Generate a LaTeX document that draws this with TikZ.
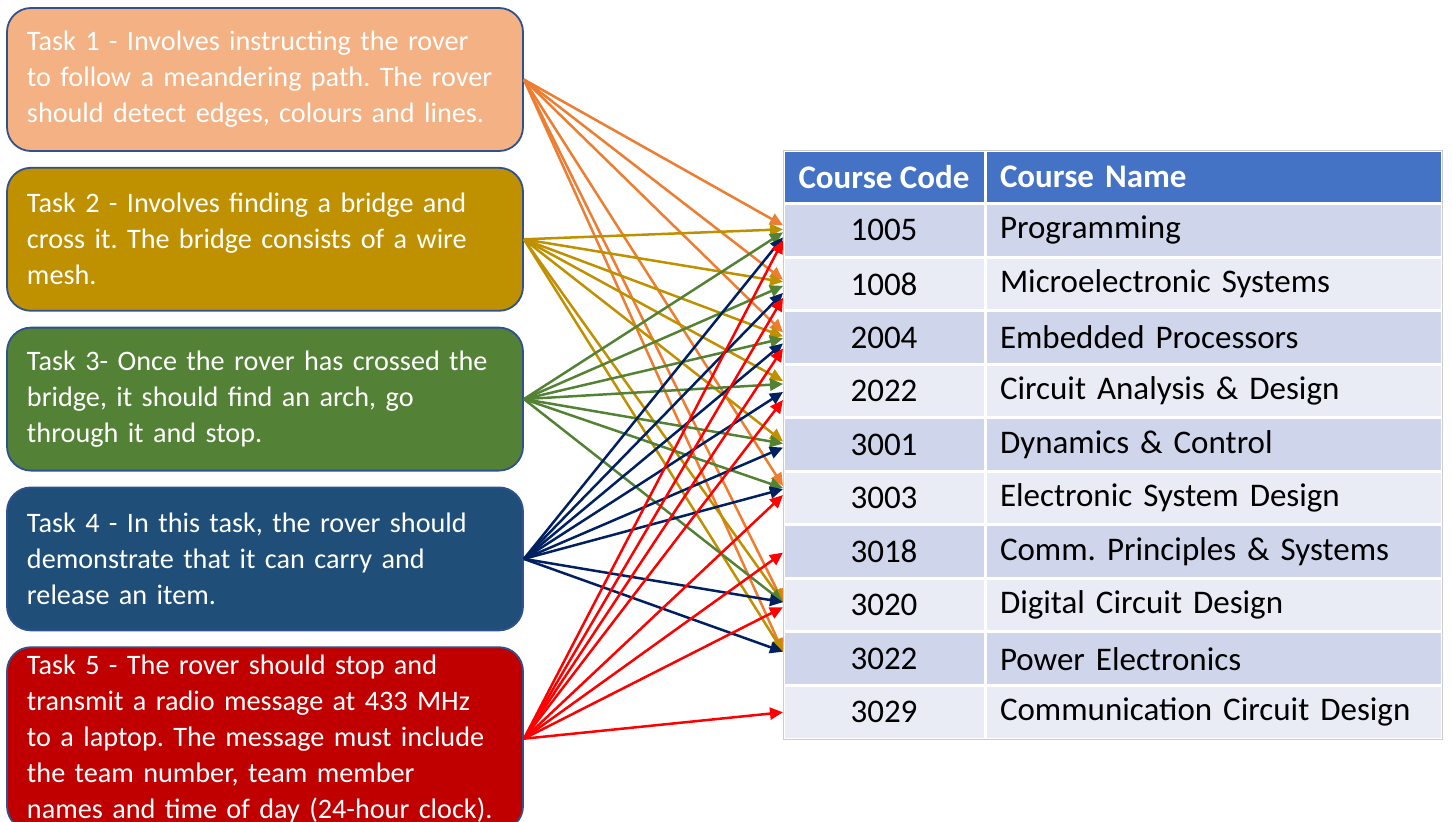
\documentclass[tikz,border=0pt]{standalone}
\usepackage{fontspec}
\setmainfont{Carlito}
\usetikzlibrary{positioning,arrows.meta}
\definecolor{boxedge}{HTML}{2F528F}
\definecolor{fillA}{HTML}{F4B183}
\definecolor{fillB}{HTML}{BF9000}
\definecolor{fillC}{HTML}{538135}
\definecolor{fillD}{HTML}{1F4E79}
\definecolor{fillE}{HTML}{C00000}
\definecolor{lineA}{HTML}{ED7D31}
\definecolor{lineB}{HTML}{BF9000}
\definecolor{lineC}{HTML}{548235}
\definecolor{lineD}{HTML}{002060}
\definecolor{lineE}{HTML}{FF0000}
\definecolor{headblue}{HTML}{4472C4}
\definecolor{rowdark}{HTML}{CFD5EA}
\definecolor{rowlight}{HTML}{E9EBF5}
\frenchspacing

\begin{document}
\begin{tikzpicture}[x=1pt,y=-1pt,>={Triangle[length=13pt,width=12pt]},
    task/.style={rectangle,rounded corners=24pt,draw=boxedge,line width=1.8pt,text=white,align=left,
      text width=476pt,inner xsep=20pt,inner ysep=0pt,minimum height=143pt,font=\fontsize{28.2}{36}\selectfont},
    tabcell/.style={rectangle,draw=white,line width=3pt,outer sep=0pt,minimum height=53.55pt,inner sep=0pt,
      font=\fontsize{33}{38}\selectfont},
    codecell/.style={tabcell,minimum width=202pt},
    namecell/.style={tabcell,minimum width=457pt,text width=427pt,align=left},
    headcell/.style={fill=headblue,text=white,font=\fontsize{33}{38}\selectfont\bfseries},
    linkA/.style={->,draw=lineA,line width=2.5pt},
    linkB/.style={->,draw=lineB,line width=2.5pt},
    linkC/.style={->,draw=lineC,line width=2.5pt},
    linkD/.style={->,draw=lineD,line width=2.5pt},
    linkE/.style={->,draw=lineE,line width=2.5pt}]

    \useasboundingbox (0,0) rectangle (1452,822);
    \clip (0,0) rectangle (1452,822);

    % tasks
    \node[task,fill=fillA] (t1) at (265,79.5) {Task 1 - Involves instructing the rover\\to follow a meandering path. The rover\\should detect edges, colours and lines.};
    \node[task,fill=fillB] (t2) [below=15pt of t1] {Task 2 - Involves finding a bridge and\\cross it. The bridge consists of a wire\\mesh.};
    \node[task,fill=fillC] (t3) [below=15pt of t2] {Task 3- Once the rover has crossed the\\bridge, it should find an arch, go\\through it and stop.};
    \node[task,fill=fillD] (t4) [below=15pt of t3] {Task 4 - In this task, the rover should\\demonstrate that it can carry and\\release an item.};
    \node[task,fill=fillE,minimum height=183pt] (t5) [below=15pt of t4] {Task 5 - The rover should stop and\\transmit a radio message at 433 MHz\\to a laptop. The message must include\\the team number, team member\\names and time of day (24-hour clock).};

    % table
    \node[codecell,headcell,anchor=north west] (hcode) at (783,150) {Course Code};
    \node[namecell,headcell] (hname) [right=0pt of hcode] {Course Name};
    \node[codecell,fill=rowdark] (c1005) [below=0pt of hcode] {1005};
    \node[namecell,fill=rowdark] (n1005) [right=0pt of c1005] {Programming};
    \node[codecell,fill=rowlight] (c1008) [below=0pt of c1005] {1008};
    \node[namecell,fill=rowlight] (n1008) [right=0pt of c1008] {Microelectronic Systems};
    \node[codecell,fill=rowdark] (c2004) [below=0pt of c1008] {2004};
    \node[namecell,fill=rowdark] (n2004) [right=0pt of c2004] {Embedded Processors};
    \node[codecell,fill=rowlight] (c2022) [below=0pt of c2004] {2022};
    \node[namecell,fill=rowlight] (n2022) [right=0pt of c2022] {Circuit Analysis \& Design};
    \node[codecell,fill=rowdark] (c3001) [below=0pt of c2022] {3001};
    \node[namecell,fill=rowdark] (n3001) [right=0pt of c3001] {Dynamics \& Control};
    \node[codecell,fill=rowlight] (c3003) [below=0pt of c3001] {3003};
    \node[namecell,fill=rowlight] (n3003) [right=0pt of c3003] {Electronic System Design};
    \node[codecell,fill=rowdark] (c3018) [below=0pt of c3003] {3018};
    \node[namecell,fill=rowdark] (n3018) [right=0pt of c3018] {Comm. Principles \& Systems};
    \node[codecell,fill=rowlight] (c3020) [below=0pt of c3018] {3020};
    \node[namecell,fill=rowlight] (n3020) [right=0pt of c3020] {Digital Circuit Design};
    \node[codecell,fill=rowdark] (c3022) [below=0pt of c3020] {3022};
    \node[namecell,fill=rowdark] (n3022) [right=0pt of c3022] {Power Electronics};
    \node[codecell,fill=rowlight] (c3029) [below=0pt of c3022] {3029};
    \node[namecell,fill=rowlight] (n3029) [right=0pt of c3029] {Communication Circuit Design};
    \draw[black!20,line width=1pt] (hcode.north west) rectangle (n3029.south east);

    % task 1
    \draw[linkA] (t1.east) to ([yshift=5pt]c1005.west);
    \draw[linkA] (t1.east) to ([yshift=4pt]c1008.west);
    \draw[linkA] (t1.east) to ([yshift=5pt]c2004.west);
    \draw[linkA] (t1.east) to ([yshift=12pt]c3003.west);
    \draw[linkA] (t1.east) to ([yshift=3pt]c3020.west);
    \draw[linkA] (t1.east) to ([yshift=7pt]c3022.west);
    % task 2
    \draw[linkB] (t2.east) to ([yshift=1pt]c1005.west);
    \draw[linkB] (t2.east) to ([yshift=2pt]c1008.west);
    \draw[linkB] (t2.east) to ([yshift=1pt]c2004.west);
    \draw[linkB] (t2.east) to ([yshift=10pt]c2022.west);
    \draw[linkB] (t2.east) to ([yshift=3pt]c3001.west);
    \draw[linkB] (t2.east) to ([yshift=3pt]c3020.west);
    \draw[linkB] (t2.east) to ([yshift=7pt]c3022.west);
    % task 3
    \draw[linkC] (t3.east) to ([yshift=-2pt]c1005.west);
    \draw[linkC] (t3.east) to ([yshift=-2pt]c1008.west);
    \draw[linkC] (t3.east) to ([yshift=-1pt]c2004.west);
    \draw[linkC] (t3.east) to ([yshift=7pt]c2022.west);
    \draw[linkC] (t3.east) to ([yshift=1pt]c3001.west);
    \draw[linkC] (t3.east) to ([yshift=10pt]c3003.west);
    \draw[linkC] (t3.east) to ([yshift=3pt]c3020.west);
    % task 4
    \draw[linkD] (t4.east) to ([yshift=-7pt]c1005.west);
    \draw[linkD] (t4.east) to ([yshift=-9pt]c1008.west);
    \draw[linkD] (t4.east) to ([yshift=-6pt]c2004.west);
    \draw[linkD] (t4.east) to ([yshift=-1pt]c2022.west);
    \draw[linkD] (t4.east) to ([yshift=-3pt]c3001.west);
    \draw[linkD] (t4.east) to ([yshift=9pt]c3003.west);
    \draw[linkD] (t4.east) to ([yshift=3pt]c3020.west);
    \draw[linkD] (t4.east) to ([yshift=7pt]c3022.west);
    % task 5
    \draw[linkE] (t5.east) to ([yshift=-10pt]c1005.west);
    \draw[linkE] (t5.east) to ([yshift=-14pt]c1008.west);
    \draw[linkE] (t5.east) to ([yshift=-11pt]c2004.west);
    \draw[linkE] (t5.east) to ([yshift=-9pt]c2022.west);
    \draw[linkE] (t5.east) to ([yshift=3pt]c3003.west);
    \draw[linkE] (t5.east) to ([yshift=-1pt]c3018.west);
    \draw[linkE] (t5.east) to ([yshift=-2pt]c3020.west);
    \draw[linkE] (t5.east) to (c3029.west);

\end{tikzpicture}
\end{document}
